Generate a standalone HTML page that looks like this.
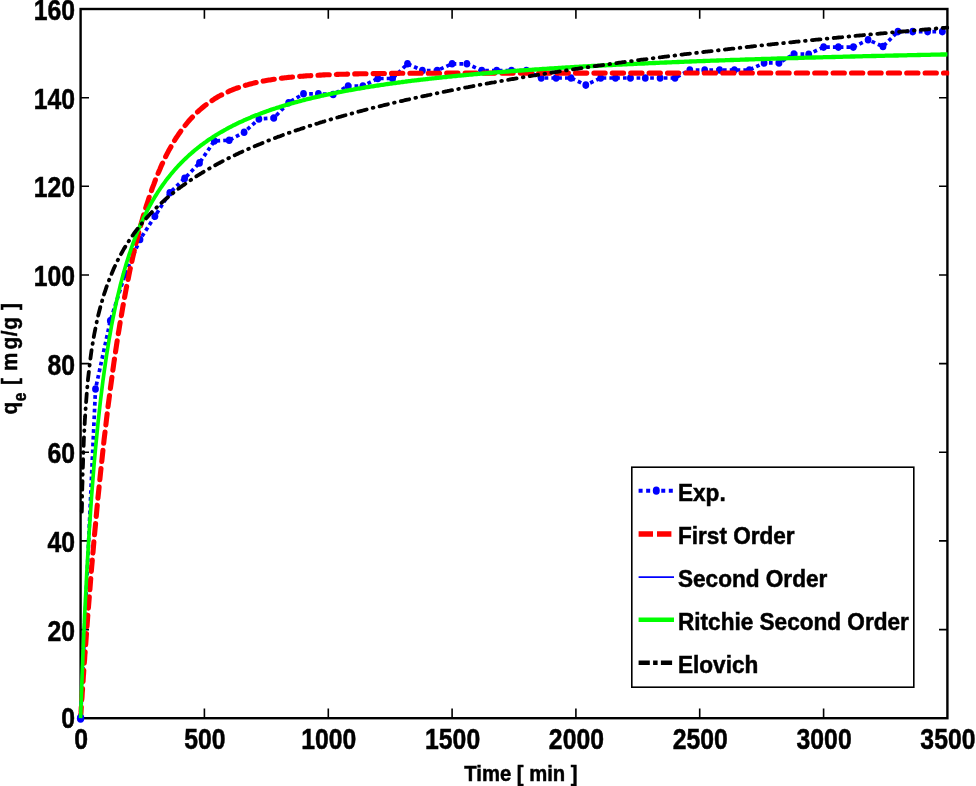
<!DOCTYPE html>
<html><head><meta charset="utf-8"><title>Adsorption kinetics</title>
<style>html,body{margin:0;padding:0;background:#fff}svg{display:block}text{font-family:"Liberation Sans",sans-serif;font-weight:bold;fill:#000;stroke:#000;stroke-width:0.5px}</style></head><body>
<svg width="976" height="786" viewBox="0 0 976 786">
<rect width="976" height="786" fill="#fff"/>
<g stroke="#000" stroke-width="2.4" fill="none">
<rect x="80.6" y="9.0" width="866.8" height="709.2"/>
<path stroke-width="1.6" d="M204.4 718.2 v-9.8 M204.4 9.0 v9.8 M328.3 718.2 v-9.8 M328.3 9.0 v9.8 M452.1 718.2 v-9.8 M452.1 9.0 v9.8 M575.9 718.2 v-9.8 M575.9 9.0 v9.8 M699.7 718.2 v-9.8 M699.7 9.0 v9.8 M823.6 718.2 v-9.8 M823.6 9.0 v9.8 M80.6 629.6 h8.4 M947.4 629.6 h-8.4 M80.6 540.9 h8.4 M947.4 540.9 h-8.4 M80.6 452.3 h8.4 M947.4 452.3 h-8.4 M80.6 363.6 h8.4 M947.4 363.6 h-8.4 M80.6 275.0 h8.4 M947.4 275.0 h-8.4 M80.6 186.3 h8.4 M947.4 186.3 h-8.4 M80.6 97.7 h8.4 M947.4 97.7 h-8.4"/>
</g>
<clipPath id="cp"><rect x="60" y="0" width="889.2" height="740"/></clipPath>
<g fill="none" stroke-linejoin="round" clip-path="url(#cp)">
<path d="M80.6 718.1 L95.5 389.0 L110.3 320.8 L125.2 274.0 L140.0 239.5 L154.9 216.3 L169.8 192.8 L184.6 178.4 L199.5 162.9 L214.3 141.0 L229.2 140.2 L244.1 132.3 L258.9 119.0 L273.8 118.0 L288.6 102.7 L303.5 93.8 L318.4 93.8 L333.2 94.5 L348.1 86.0 L362.9 86.0 L377.8 78.5 L392.6 78.5 L407.5 63.8 L422.4 70.5 L437.2 70.5 L452.1 63.8 L466.9 63.8 L481.8 70.5 L496.7 70.5 L511.5 70.5 L526.4 70.5 L541.2 78.0 L556.1 78.0 L571.0 78.0 L585.8 85.1 L600.7 78.0 L615.5 78.0 L630.4 78.0 L645.3 78.0 L660.1 78.0 L675.0 78.0 L689.8 70.0 L704.7 70.0 L719.6 70.0 L734.4 70.0 L749.3 70.0 L764.1 62.9 L779.0 62.9 L793.9 54.1 L808.7 54.2 L823.6 47.1 L838.4 47.1 L853.3 47.1 L868.1 39.8 L883.0 46.5 L897.9 31.6 L912.7 31.6 L927.6 31.6 L942.4 31.6" stroke="#00f" stroke-width="3.7" stroke-dasharray="3.7 3.1"/>
<g fill="#00f" stroke="none"><ellipse cx="80.6" cy="718.1" rx="3.4" ry="3.8"/><ellipse cx="95.5" cy="389.0" rx="3.4" ry="3.8"/><ellipse cx="110.3" cy="320.8" rx="3.4" ry="3.8"/><ellipse cx="125.2" cy="274.0" rx="3.4" ry="3.8"/><ellipse cx="140.0" cy="239.5" rx="3.4" ry="3.8"/><ellipse cx="154.9" cy="216.3" rx="3.4" ry="3.8"/><ellipse cx="169.8" cy="192.8" rx="3.4" ry="3.8"/><ellipse cx="184.6" cy="178.4" rx="3.4" ry="3.8"/><ellipse cx="199.5" cy="162.9" rx="3.4" ry="3.8"/><ellipse cx="214.3" cy="141.0" rx="3.4" ry="3.8"/><ellipse cx="229.2" cy="140.2" rx="3.4" ry="3.8"/><ellipse cx="244.1" cy="132.3" rx="3.4" ry="3.8"/><ellipse cx="258.9" cy="119.0" rx="3.4" ry="3.8"/><ellipse cx="273.8" cy="118.0" rx="3.4" ry="3.8"/><ellipse cx="288.6" cy="102.7" rx="3.4" ry="3.8"/><ellipse cx="303.5" cy="93.8" rx="3.4" ry="3.8"/><ellipse cx="318.4" cy="93.8" rx="3.4" ry="3.8"/><ellipse cx="333.2" cy="94.5" rx="3.4" ry="3.8"/><ellipse cx="348.1" cy="86.0" rx="3.4" ry="3.8"/><ellipse cx="362.9" cy="86.0" rx="3.4" ry="3.8"/><ellipse cx="377.8" cy="78.5" rx="3.4" ry="3.8"/><ellipse cx="392.6" cy="78.5" rx="3.4" ry="3.8"/><ellipse cx="407.5" cy="63.8" rx="3.4" ry="3.8"/><ellipse cx="422.4" cy="70.5" rx="3.4" ry="3.8"/><ellipse cx="437.2" cy="70.5" rx="3.4" ry="3.8"/><ellipse cx="452.1" cy="63.8" rx="3.4" ry="3.8"/><ellipse cx="466.9" cy="63.8" rx="3.4" ry="3.8"/><ellipse cx="481.8" cy="70.5" rx="3.4" ry="3.8"/><ellipse cx="496.7" cy="70.5" rx="3.4" ry="3.8"/><ellipse cx="511.5" cy="70.5" rx="3.4" ry="3.8"/><ellipse cx="526.4" cy="70.5" rx="3.4" ry="3.8"/><ellipse cx="541.2" cy="78.0" rx="3.4" ry="3.8"/><ellipse cx="556.1" cy="78.0" rx="3.4" ry="3.8"/><ellipse cx="571.0" cy="78.0" rx="3.4" ry="3.8"/><ellipse cx="585.8" cy="85.1" rx="3.4" ry="3.8"/><ellipse cx="600.7" cy="78.0" rx="3.4" ry="3.8"/><ellipse cx="615.5" cy="78.0" rx="3.4" ry="3.8"/><ellipse cx="630.4" cy="78.0" rx="3.4" ry="3.8"/><ellipse cx="645.3" cy="78.0" rx="3.4" ry="3.8"/><ellipse cx="660.1" cy="78.0" rx="3.4" ry="3.8"/><ellipse cx="675.0" cy="78.0" rx="3.4" ry="3.8"/><ellipse cx="689.8" cy="70.0" rx="3.4" ry="3.8"/><ellipse cx="704.7" cy="70.0" rx="3.4" ry="3.8"/><ellipse cx="719.6" cy="70.0" rx="3.4" ry="3.8"/><ellipse cx="734.4" cy="70.0" rx="3.4" ry="3.8"/><ellipse cx="749.3" cy="70.0" rx="3.4" ry="3.8"/><ellipse cx="764.1" cy="62.9" rx="3.4" ry="3.8"/><ellipse cx="779.0" cy="62.9" rx="3.4" ry="3.8"/><ellipse cx="793.9" cy="54.1" rx="3.4" ry="3.8"/><ellipse cx="808.7" cy="54.2" rx="3.4" ry="3.8"/><ellipse cx="823.6" cy="47.1" rx="3.4" ry="3.8"/><ellipse cx="838.4" cy="47.1" rx="3.4" ry="3.8"/><ellipse cx="853.3" cy="47.1" rx="3.4" ry="3.8"/><ellipse cx="868.1" cy="39.8" rx="3.4" ry="3.8"/><ellipse cx="883.0" cy="46.5" rx="3.4" ry="3.8"/><ellipse cx="897.9" cy="31.6" rx="3.4" ry="3.8"/><ellipse cx="912.7" cy="31.6" rx="3.4" ry="3.8"/><ellipse cx="927.6" cy="31.6" rx="3.4" ry="3.8"/><ellipse cx="942.4" cy="31.6" rx="3.4" ry="3.8"/></g>
<path d="M80.6 718.2 L80.7 716.3 L80.8 714.4 L81.0 712.5 L81.1 710.6 L81.2 708.7 L81.3 706.8 L81.5 704.9 L81.6 703.0 L81.7 701.2 L81.8 699.3 L82.0 697.4 L82.1 695.6 L82.2 693.7 L82.3 691.9 L82.5 690.0 L82.6 688.2 L82.7 686.4 L82.8 684.6 L83.0 682.7 L83.1 680.9 L83.2 679.1 L83.3 677.3 L83.4 675.5 L83.6 673.7 L83.7 672.0 L83.8 670.2 L83.9 668.4 L84.1 666.6 L84.2 664.9 L84.3 663.1 L84.4 661.4 L84.6 659.6 L84.7 657.9 L84.8 656.1 L84.9 654.4 L85.1 652.7 L85.2 651.0 L85.3 649.2 L85.4 647.5 L85.6 645.8 L86.8 629.0 L88.0 612.7 L89.3 596.9 L90.5 581.6 L91.7 566.7 L93.0 552.2 L94.2 538.1 L95.5 524.5 L96.7 511.3 L97.9 498.4 L99.2 486.0 L100.4 473.9 L101.7 462.1 L102.9 450.7 L104.1 439.6 L105.4 428.9 L106.6 418.5 L107.8 408.3 L109.1 398.5 L110.3 389.0 L111.6 379.7 L112.8 370.7 L114.0 362.0 L115.3 353.5 L116.5 345.3 L117.7 337.3 L119.0 329.6 L120.2 322.1 L121.5 314.8 L122.7 307.7 L123.9 300.8 L125.2 294.1 L126.4 287.6 L127.7 281.4 L128.9 275.2 L130.1 269.3 L131.4 263.6 L132.6 258.0 L133.8 252.6 L135.1 247.3 L136.3 242.2 L137.6 237.2 L138.8 232.4 L140.0 227.7 L141.3 223.2 L142.5 218.8 L143.8 214.5 L145.0 210.4 L146.2 206.4 L147.5 202.5 L148.7 198.7 L149.9 195.0 L151.2 191.4 L152.4 187.9 L153.7 184.6 L154.9 181.3 L156.1 178.1 L157.4 175.1 L158.6 172.1 L159.9 169.2 L161.1 166.3 L162.3 163.6 L163.6 161.0 L164.8 158.4 L166.0 155.9 L167.3 153.4 L168.5 151.1 L169.8 148.8 L171.0 146.6 L172.2 144.4 L173.5 142.3 L174.7 140.3 L175.9 138.3 L177.2 136.4 L178.4 134.6 L179.7 132.8 L180.9 131.0 L182.1 129.3 L183.4 127.7 L184.6 126.1 L185.9 124.5 L187.1 123.0 L188.3 121.5 L189.6 120.1 L190.8 118.7 L192.0 117.4 L193.3 116.1 L194.5 114.8 L195.8 113.6 L197.0 112.4 L198.2 111.3 L199.5 110.1 L200.7 109.1 L202.0 108.0 L203.2 107.0 L204.4 106.0 L205.7 105.0 L206.9 104.1 L208.1 103.2 L209.4 102.3 L210.6 101.4 L211.9 100.6 L213.1 99.8 L214.3 99.0 L215.6 98.2 L216.8 97.5 L218.0 96.8 L219.3 96.1 L220.5 95.4 L221.8 94.8 L223.0 94.1 L224.2 93.5 L225.5 92.9 L226.7 92.3 L228.0 91.8 L229.2 91.2 L230.4 90.7 L231.7 90.2 L232.9 89.7 L234.1 89.2 L235.4 88.7 L236.6 88.2 L237.9 87.8 L239.1 87.4 L240.3 86.9 L241.6 86.5 L242.8 86.1 L244.1 85.8 L245.3 85.4 L246.5 85.0 L247.8 84.7 L249.0 84.3 L250.2 84.0 L251.5 83.7 L252.7 83.4 L254.0 83.1 L255.2 82.8 L256.4 82.5 L257.7 82.2 L258.9 81.9 L260.2 81.7 L261.4 81.4 L262.6 81.2 L263.9 80.9 L265.1 80.7 L266.3 80.5 L267.6 80.3 L268.8 80.1 L270.1 79.9 L271.3 79.7 L272.5 79.5 L273.8 79.3 L275.0 79.1 L276.2 78.9 L277.5 78.7 L278.7 78.6 L280.0 78.4 L281.2 78.3 L282.4 78.1 L283.7 78.0 L284.9 77.8 L286.2 77.7 L287.4 77.5 L288.6 77.4 L289.9 77.3 L291.1 77.2 L292.3 77.0 L293.6 76.9 L294.8 76.8 L296.1 76.7 L297.3 76.6 L298.5 76.5 L299.8 76.4 L301.0 76.3 L302.3 76.2 L303.5 76.1 L304.7 76.0 L306.0 75.9 L307.2 75.8 L308.4 75.8 L309.7 75.7 L310.9 75.6 L312.2 75.5 L313.4 75.5 L314.6 75.4 L315.9 75.3 L317.1 75.2 L318.4 75.2 L319.6 75.1 L320.8 75.1 L322.1 75.0 L323.3 74.9 L324.5 74.9 L325.8 74.8 L327.0 74.8 L328.3 74.7 L329.5 74.7 L330.7 74.6 L332.0 74.6 L333.2 74.5 L334.4 74.5 L335.7 74.5 L336.9 74.4 L338.2 74.4 L339.4 74.3 L340.6 74.3 L341.9 74.3 L343.1 74.2 L344.4 74.2 L345.6 74.2 L346.8 74.1 L348.1 74.1 L349.3 74.1 L350.5 74.0 L351.8 74.0 L353.0 74.0 L354.3 73.9 L355.5 73.9 L356.7 73.9 L358.0 73.9 L359.2 73.8 L360.5 73.8 L361.7 73.8 L362.9 73.8 L364.2 73.8 L365.4 73.7 L366.6 73.7 L367.9 73.7 L369.1 73.7 L370.4 73.7 L371.6 73.6 L372.8 73.6 L374.1 73.6 L375.3 73.6 L376.6 73.6 L377.8 73.6 L379.0 73.5 L380.3 73.5 L381.5 73.5 L382.7 73.5 L384.0 73.5 L385.2 73.5 L386.5 73.5 L387.7 73.5 L388.9 73.4 L390.2 73.4 L391.4 73.4 L392.6 73.4 L393.9 73.4 L395.1 73.4 L396.4 73.4 L397.6 73.4 L398.8 73.4 L400.1 73.3 L401.3 73.3 L402.6 73.3 L403.8 73.3 L405.0 73.3 L406.3 73.3 L407.5 73.3 L408.7 73.3 L410.0 73.3 L411.2 73.3 L412.5 73.3 L413.7 73.3 L414.9 73.3 L416.2 73.3 L417.4 73.2 L418.7 73.2 L419.9 73.2 L421.1 73.2 L422.4 73.2 L423.6 73.2 L424.8 73.2 L426.1 73.2 L427.3 73.2 L428.6 73.2 L429.8 73.2 L431.0 73.2 L432.3 73.2 L433.5 73.2 L434.7 73.2 L436.0 73.2 L437.2 73.2 L438.5 73.2 L439.7 73.2 L440.9 73.2 L442.2 73.2 L443.4 73.2 L444.7 73.2 L445.9 73.1 L447.1 73.1 L448.4 73.1 L449.6 73.1 L450.8 73.1 L452.1 73.1 L453.3 73.1 L454.6 73.1 L455.8 73.1 L457.0 73.1 L458.3 73.1 L459.5 73.1 L460.8 73.1 L462.0 73.1 L463.2 73.1 L464.5 73.1 L465.7 73.1 L466.9 73.1 L468.2 73.1 L469.4 73.1 L470.7 73.1 L471.9 73.1 L473.1 73.1 L474.4 73.1 L475.6 73.1 L476.9 73.1 L478.1 73.1 L479.3 73.1 L480.6 73.1 L481.8 73.1 L483.0 73.1 L484.3 73.1 L485.5 73.1 L486.8 73.1 L488.0 73.1 L489.2 73.1 L490.5 73.1 L491.7 73.1 L492.9 73.1 L494.2 73.1 L495.4 73.1 L496.7 73.1 L497.9 73.1 L499.1 73.1 L500.4 73.1 L501.6 73.1 L502.9 73.1 L504.1 73.1 L505.3 73.1 L506.6 73.1 L507.8 73.1 L509.0 73.1 L510.3 73.1 L511.5 73.1 L512.8 73.1 L514.0 73.1 L515.2 73.1 L516.5 73.1 L517.7 73.1 L519.0 73.1 L520.2 73.1 L521.4 73.1 L522.7 73.1 L523.9 73.1 L525.1 73.1 L526.4 73.1 L527.6 73.1 L528.9 73.1 L530.1 73.1 L531.3 73.1 L532.6 73.1 L533.8 73.1 L535.1 73.1 L536.3 73.1 L537.5 73.1 L538.8 73.1 L540.0 73.1 L541.2 73.1 L542.5 73.1 L543.7 73.1 L545.0 73.1 L546.2 73.1 L547.4 73.1 L548.7 73.1 L549.9 73.1 L551.1 73.1 L552.4 73.1 L553.6 73.1 L554.9 73.1 L556.1 73.1 L557.3 73.1 L558.6 73.1 L559.8 73.1 L561.1 73.1 L562.3 73.1 L563.5 73.1 L564.8 73.1 L566.0 73.1 L567.2 73.1 L568.5 73.1 L569.7 73.1 L571.0 73.1 L572.2 73.1 L573.4 73.1 L574.7 73.1 L575.9 73.1 L577.2 73.1 L578.4 73.1 L579.6 73.1 L580.9 73.1 L582.1 73.1 L583.3 73.1 L584.6 73.1 L585.8 73.1 L587.1 73.1 L588.3 73.1 L589.5 73.1 L590.8 73.1 L592.0 73.1 L593.3 73.1 L594.5 73.1 L595.7 73.1 L597.0 73.1 L598.2 73.1 L599.4 73.1 L600.7 73.1 L601.9 73.1 L603.2 73.1 L604.4 73.1 L605.6 73.1 L606.9 73.1 L608.1 73.1 L609.3 73.1 L610.6 73.1 L611.8 73.1 L613.1 73.1 L614.3 73.1 L615.5 73.1 L616.8 73.1 L618.0 73.1 L619.3 73.1 L620.5 73.1 L621.7 73.1 L623.0 73.1 L624.2 73.1 L625.4 73.1 L626.7 73.1 L627.9 73.1 L629.2 73.1 L630.4 73.1 L631.6 73.1 L632.9 73.1 L634.1 73.1 L635.4 73.1 L636.6 73.1 L637.8 73.1 L639.1 73.1 L640.3 73.1 L641.5 73.1 L642.8 73.1 L644.0 73.1 L645.3 73.1 L646.5 73.1 L647.7 73.1 L649.0 73.1 L650.2 73.1 L651.4 73.1 L652.7 73.1 L653.9 73.1 L655.2 73.1 L656.4 73.1 L657.6 73.1 L658.9 73.1 L660.1 73.1 L661.4 73.1 L662.6 73.1 L663.8 73.1 L665.1 73.1 L666.3 73.1 L667.5 73.1 L668.8 73.1 L670.0 73.1 L671.3 73.1 L672.5 73.1 L673.7 73.1 L675.0 73.1 L676.2 73.1 L677.5 73.1 L678.7 73.0 L679.9 73.0 L681.2 73.0 L682.4 73.0 L683.6 73.0 L684.9 73.0 L686.1 73.0 L687.4 73.0 L688.6 73.0 L689.8 73.0 L691.1 73.0 L692.3 73.0 L693.6 73.0 L694.8 73.0 L696.0 73.0 L697.3 73.0 L698.5 73.0 L699.7 73.0 L701.0 73.0 L702.2 73.0 L703.5 73.0 L704.7 73.0 L705.9 73.0 L707.2 73.0 L708.4 73.0 L709.6 73.0 L710.9 73.0 L712.1 73.0 L713.4 73.0 L714.6 73.0 L715.8 73.0 L717.1 73.0 L718.3 73.0 L719.6 73.0 L720.8 73.0 L722.0 73.0 L723.3 73.0 L724.5 73.0 L725.7 73.0 L727.0 73.0 L728.2 73.0 L729.5 73.0 L730.7 73.0 L731.9 73.0 L733.2 73.0 L734.4 73.0 L735.7 73.0 L736.9 73.0 L738.1 73.0 L739.4 73.0 L740.6 73.0 L741.8 73.0 L743.1 73.0 L744.3 73.0 L745.6 73.0 L746.8 73.0 L748.0 73.0 L749.3 73.0 L750.5 73.0 L751.8 73.0 L753.0 73.0 L754.2 73.0 L755.5 73.0 L756.7 73.0 L757.9 73.0 L759.2 73.0 L760.4 73.0 L761.7 73.0 L762.9 73.0 L764.1 73.0 L765.4 73.0 L766.6 73.0 L767.8 73.0 L769.1 73.0 L770.3 73.0 L771.6 73.0 L772.8 73.0 L774.0 73.0 L775.3 73.0 L776.5 73.0 L777.8 73.0 L779.0 73.0 L780.2 73.0 L781.5 73.0 L782.7 73.0 L783.9 73.0 L785.2 73.0 L786.4 73.0 L787.7 73.0 L788.9 73.0 L790.1 73.0 L791.4 73.0 L792.6 73.0 L793.9 73.0 L795.1 73.0 L796.3 73.0 L797.6 73.0 L798.8 73.0 L800.0 73.0 L801.3 73.0 L802.5 73.0 L803.8 73.0 L805.0 73.0 L806.2 73.0 L807.5 73.0 L808.7 73.0 L810.0 73.0 L811.2 73.0 L812.4 73.0 L813.7 73.0 L814.9 73.0 L816.1 73.0 L817.4 73.0 L818.6 73.0 L819.9 73.0 L821.1 73.0 L822.3 73.0 L823.6 73.0 L824.8 73.0 L826.0 73.0 L827.3 73.0 L828.5 73.0 L829.8 73.0 L831.0 73.0 L832.2 73.0 L833.5 73.0 L834.7 73.0 L836.0 73.0 L837.2 73.0 L838.4 73.0 L839.7 73.0 L840.9 73.0 L842.1 73.0 L843.4 73.0 L844.6 73.0 L845.9 73.0 L847.1 73.0 L848.3 73.0 L849.6 73.0 L850.8 73.0 L852.1 73.0 L853.3 73.0 L854.5 73.0 L855.8 73.0 L857.0 73.0 L858.2 73.0 L859.5 73.0 L860.7 73.0 L862.0 73.0 L863.2 73.0 L864.4 73.0 L865.7 73.0 L866.9 73.0 L868.1 73.0 L869.4 73.0 L870.6 73.0 L871.9 73.0 L873.1 73.0 L874.3 73.0 L875.6 73.0 L876.8 73.0 L878.1 73.0 L879.3 73.0 L880.5 73.0 L881.8 73.0 L883.0 73.0 L884.2 73.0 L885.5 73.0 L886.7 73.0 L888.0 73.0 L889.2 73.0 L890.4 73.0 L891.7 73.0 L892.9 73.0 L894.2 73.0 L895.4 73.0 L896.6 73.0 L897.9 73.0 L899.1 73.0 L900.3 73.0 L901.6 73.0 L902.8 73.0 L904.1 73.0 L905.3 73.0 L906.5 73.0 L907.8 73.0 L909.0 73.0 L910.3 73.0 L911.5 73.0 L912.7 73.0 L914.0 73.0 L915.2 73.0 L916.4 73.0 L917.7 73.0 L918.9 73.0 L920.2 73.0 L921.4 73.0 L922.6 73.0 L923.9 73.0 L925.1 73.0 L926.3 73.0 L927.6 73.0 L928.8 73.0 L930.1 73.0 L931.3 73.0 L932.5 73.0 L933.8 73.0 L935.0 73.0 L936.3 73.0 L937.5 73.0 L938.7 73.0 L940.0 73.0 L941.2 73.0 L942.4 73.0 L943.7 73.0 L944.9 73.0 L946.2 73.0 L947.4 73.0" stroke="#f00" stroke-width="5.1" stroke-linecap="round" stroke-dasharray="11.3 7.1"/>
<ellipse cx="80.6" cy="718.3" rx="3.7" ry="4.4" fill="#00f"/>
<g transform="scale(0.85,1)">
<path d="M94.8 718.2 L95.0 714.5 L95.1 710.9 L95.3 707.3 L95.4 703.7 L95.6 700.2 L95.7 696.7 L95.8 693.2 L96.0 689.8 L96.1 686.4 L96.3 683.1 L96.4 679.8 L96.6 676.5 L96.7 673.3 L96.9 670.0 L97.0 666.9 L97.2 663.7 L97.3 660.6 L97.4 657.5 L97.6 654.5 L97.7 651.4 L97.9 648.4 L98.0 645.5 L98.2 642.5 L98.3 639.6 L98.5 636.7 L98.6 633.9 L98.8 631.1 L98.9 628.3 L99.0 625.5 L99.2 622.7 L99.3 620.0 L99.5 617.3 L99.6 614.6 L99.8 612.0 L99.9 609.4 L100.1 606.8 L100.2 604.2 L100.4 601.6 L100.5 599.1 L100.7 596.6 L102.1 572.7 L103.6 550.7 L105.0 530.5 L106.5 511.8 L107.9 494.5 L109.4 478.4 L110.8 463.4 L112.3 449.3 L113.8 436.2 L115.2 423.9 L116.7 412.3 L118.1 401.4 L119.6 391.1 L121.0 381.4 L122.5 372.2 L124.0 363.4 L125.4 355.2 L126.9 347.3 L128.3 339.8 L129.8 332.7 L131.2 325.8 L132.7 319.3 L134.2 313.1 L135.6 307.2 L137.1 301.5 L138.5 296.0 L140.0 290.8 L141.4 285.7 L142.9 280.9 L144.4 276.2 L145.8 271.8 L147.3 267.4 L148.7 263.3 L150.2 259.3 L151.6 255.4 L153.1 251.7 L154.6 248.0 L156.0 244.5 L157.5 241.2 L158.9 237.9 L160.4 234.7 L161.8 231.7 L163.3 228.7 L164.8 225.8 L166.2 223.0 L167.7 220.3 L169.1 217.6 L170.6 215.1 L172.0 212.6 L173.5 210.1 L174.9 207.8 L176.4 205.5 L177.9 203.3 L179.3 201.1 L180.8 199.0 L182.2 196.9 L183.7 194.9 L185.1 192.9 L186.6 191.0 L188.1 189.1 L189.5 187.3 L191.0 185.5 L192.4 183.8 L193.9 182.1 L195.3 180.4 L196.8 178.8 L198.3 177.2 L199.7 175.7 L201.2 174.1 L202.6 172.7 L204.1 171.2 L205.5 169.8 L207.0 168.4 L208.5 167.0 L209.9 165.7 L211.4 164.4 L212.8 163.1 L214.3 161.8 L215.7 160.6 L217.2 159.4 L218.7 158.2 L220.1 157.1 L221.6 155.9 L223.0 154.8 L224.5 153.7 L225.9 152.6 L227.4 151.6 L228.8 150.5 L230.3 149.5 L231.8 148.5 L233.2 147.5 L234.7 146.6 L236.1 145.6 L237.6 144.7 L239.0 143.8 L240.5 142.9 L242.0 142.0 L243.4 141.1 L244.9 140.2 L246.3 139.4 L247.8 138.6 L249.2 137.8 L250.7 137.0 L252.2 136.2 L253.6 135.4 L255.1 134.6 L256.5 133.9 L258.0 133.1 L259.4 132.4 L260.9 131.7 L262.4 131.0 L263.8 130.3 L265.3 129.6 L266.7 128.9 L268.2 128.2 L269.6 127.6 L271.1 126.9 L272.6 126.3 L274.0 125.6 L275.5 125.0 L276.9 124.4 L278.4 123.8 L279.8 123.2 L281.3 122.6 L282.8 122.0 L284.2 121.5 L285.7 120.9 L287.1 120.3 L288.6 119.8 L290.0 119.2 L291.5 118.7 L292.9 118.2 L294.4 117.7 L295.9 117.1 L297.3 116.6 L298.8 116.1 L300.2 115.6 L301.7 115.1 L303.1 114.7 L304.6 114.2 L306.1 113.7 L307.5 113.2 L309.0 112.8 L310.4 112.3 L311.9 111.9 L313.3 111.4 L314.8 111.0 L316.3 110.6 L317.7 110.1 L319.2 109.7 L320.6 109.3 L322.1 108.9 L323.5 108.5 L325.0 108.0 L326.5 107.6 L327.9 107.3 L329.4 106.9 L330.8 106.5 L332.3 106.1 L333.7 105.7 L335.2 105.3 L336.7 105.0 L338.1 104.6 L339.6 104.2 L341.0 103.9 L342.5 103.5 L343.9 103.2 L345.4 102.8 L346.9 102.5 L348.3 102.1 L349.8 101.8 L351.2 101.5 L352.7 101.1 L354.1 100.8 L355.6 100.5 L357.0 100.2 L358.5 99.8 L360.0 99.5 L361.4 99.2 L362.9 98.9 L364.3 98.6 L365.8 98.3 L367.2 98.0 L368.7 97.7 L370.2 97.4 L371.6 97.1 L373.1 96.8 L374.5 96.6 L376.0 96.3 L377.4 96.0 L378.9 95.7 L380.4 95.5 L381.8 95.2 L383.3 94.9 L384.7 94.6 L386.2 94.4 L387.6 94.1 L389.1 93.9 L390.6 93.6 L392.0 93.3 L393.5 93.1 L394.9 92.8 L396.4 92.6 L397.8 92.4 L399.3 92.1 L400.8 91.9 L402.2 91.6 L403.7 91.4 L405.1 91.2 L406.6 90.9 L408.0 90.7 L409.5 90.5 L411.0 90.2 L412.4 90.0 L413.9 89.8 L415.3 89.6 L416.8 89.3 L418.2 89.1 L419.7 88.9 L421.1 88.7 L422.6 88.5 L424.1 88.3 L425.5 88.1 L427.0 87.9 L428.4 87.6 L429.9 87.4 L431.3 87.2 L432.8 87.0 L434.3 86.8 L435.7 86.6 L437.2 86.4 L438.6 86.3 L440.1 86.1 L441.5 85.9 L443.0 85.7 L444.5 85.5 L445.9 85.3 L447.4 85.1 L448.8 84.9 L450.3 84.8 L451.7 84.6 L453.2 84.4 L454.7 84.2 L456.1 84.0 L457.6 83.9 L459.0 83.7 L460.5 83.5 L461.9 83.3 L463.4 83.2 L464.9 83.0 L466.3 82.8 L467.8 82.7 L469.2 82.5 L470.7 82.3 L472.1 82.2 L473.6 82.0 L475.1 81.8 L476.5 81.7 L478.0 81.5 L479.4 81.4 L480.9 81.2 L482.3 81.1 L483.8 80.9 L485.2 80.7 L486.7 80.6 L488.2 80.4 L489.6 80.3 L491.1 80.1 L492.5 80.0 L494.0 79.9 L495.4 79.7 L496.9 79.6 L498.4 79.4 L499.8 79.3 L501.3 79.1 L502.7 79.0 L504.2 78.8 L505.6 78.7 L507.1 78.6 L508.6 78.4 L510.0 78.3 L511.5 78.2 L512.9 78.0 L514.4 77.9 L515.8 77.8 L517.3 77.6 L518.8 77.5 L520.2 77.4 L521.7 77.2 L523.1 77.1 L524.6 77.0 L526.0 76.8 L527.5 76.7 L529.0 76.6 L530.4 76.5 L531.9 76.3 L533.3 76.2 L534.8 76.1 L536.2 76.0 L537.7 75.9 L539.1 75.7 L540.6 75.6 L542.1 75.5 L543.5 75.4 L545.0 75.3 L546.4 75.1 L547.9 75.0 L549.3 74.9 L550.8 74.8 L552.3 74.7 L553.7 74.6 L555.2 74.5 L556.6 74.4 L558.1 74.2 L559.5 74.1 L561.0 74.0 L562.5 73.9 L563.9 73.8 L565.4 73.7 L566.8 73.6 L568.3 73.5 L569.7 73.4 L571.2 73.3 L572.7 73.2 L574.1 73.1 L575.6 73.0 L577.0 72.9 L578.5 72.8 L579.9 72.7 L581.4 72.5 L582.9 72.4 L584.3 72.3 L585.8 72.2 L587.2 72.2 L588.7 72.1 L590.1 72.0 L591.6 71.9 L593.1 71.8 L594.5 71.7 L596.0 71.6 L597.4 71.5 L598.9 71.4 L600.3 71.3 L601.8 71.2 L603.2 71.1 L604.7 71.0 L606.2 70.9 L607.6 70.8 L609.1 70.7 L610.5 70.6 L612.0 70.5 L613.4 70.5 L614.9 70.4 L616.4 70.3 L617.8 70.2 L619.3 70.1 L620.7 70.0 L622.2 69.9 L623.6 69.8 L625.1 69.8 L626.6 69.7 L628.0 69.6 L629.5 69.5 L630.9 69.4 L632.4 69.3 L633.8 69.3 L635.3 69.2 L636.8 69.1 L638.2 69.0 L639.7 68.9 L641.1 68.8 L642.6 68.8 L644.0 68.7 L645.5 68.6 L647.0 68.5 L648.4 68.4 L649.9 68.4 L651.3 68.3 L652.8 68.2 L654.2 68.1 L655.7 68.1 L657.2 68.0 L658.6 67.9 L660.1 67.8 L661.5 67.7 L663.0 67.7 L664.4 67.6 L665.9 67.5 L667.3 67.4 L668.8 67.4 L670.3 67.3 L671.7 67.2 L673.2 67.2 L674.6 67.1 L676.1 67.0 L677.5 66.9 L679.0 66.9 L680.5 66.8 L681.9 66.7 L683.4 66.7 L684.8 66.6 L686.3 66.5 L687.7 66.4 L689.2 66.4 L690.7 66.3 L692.1 66.2 L693.6 66.2 L695.0 66.1 L696.5 66.0 L697.9 66.0 L699.4 65.9 L700.9 65.8 L702.3 65.8 L703.8 65.7 L705.2 65.6 L706.7 65.6 L708.1 65.5 L709.6 65.4 L711.1 65.4 L712.5 65.3 L714.0 65.2 L715.4 65.2 L716.9 65.1 L718.3 65.1 L719.8 65.0 L721.3 64.9 L722.7 64.9 L724.2 64.8 L725.6 64.7 L727.1 64.7 L728.5 64.6 L730.0 64.6 L731.4 64.5 L732.9 64.4 L734.4 64.4 L735.8 64.3 L737.3 64.3 L738.7 64.2 L740.2 64.1 L741.6 64.1 L743.1 64.0 L744.6 64.0 L746.0 63.9 L747.5 63.9 L748.9 63.8 L750.4 63.7 L751.8 63.7 L753.3 63.6 L754.8 63.6 L756.2 63.5 L757.7 63.5 L759.1 63.4 L760.6 63.3 L762.0 63.3 L763.5 63.2 L765.0 63.2 L766.4 63.1 L767.9 63.1 L769.3 63.0 L770.8 63.0 L772.2 62.9 L773.7 62.9 L775.2 62.8 L776.6 62.7 L778.1 62.7 L779.5 62.6 L781.0 62.6 L782.4 62.5 L783.9 62.5 L785.3 62.4 L786.8 62.4 L788.3 62.3 L789.7 62.3 L791.2 62.2 L792.6 62.2 L794.1 62.1 L795.5 62.1 L797.0 62.0 L798.5 62.0 L799.9 61.9 L801.4 61.9 L802.8 61.8 L804.3 61.8 L805.7 61.7 L807.2 61.7 L808.7 61.6 L810.1 61.6 L811.6 61.5 L813.0 61.5 L814.5 61.4 L815.9 61.4 L817.4 61.3 L818.9 61.3 L820.3 61.2 L821.8 61.2 L823.2 61.2 L824.7 61.1 L826.1 61.1 L827.6 61.0 L829.1 61.0 L830.5 60.9 L832.0 60.9 L833.4 60.8 L834.9 60.8 L836.3 60.7 L837.8 60.7 L839.3 60.7 L840.7 60.6 L842.2 60.6 L843.6 60.5 L845.1 60.5 L846.5 60.4 L848.0 60.4 L849.4 60.3 L850.9 60.3 L852.4 60.3 L853.8 60.2 L855.3 60.2 L856.7 60.1 L858.2 60.1 L859.6 60.0 L861.1 60.0 L862.6 60.0 L864.0 59.9 L865.5 59.9 L866.9 59.8 L868.4 59.8 L869.8 59.8 L871.3 59.7 L872.8 59.7 L874.2 59.6 L875.7 59.6 L877.1 59.5 L878.6 59.5 L880.0 59.5 L881.5 59.4 L883.0 59.4 L884.4 59.3 L885.9 59.3 L887.3 59.3 L888.8 59.2 L890.2 59.2 L891.7 59.1 L893.2 59.1 L894.6 59.1 L896.1 59.0 L897.5 59.0 L899.0 59.0 L900.4 58.9 L901.9 58.9 L903.4 58.8 L904.8 58.8 L906.3 58.8 L907.7 58.7 L909.2 58.7 L910.6 58.6 L912.1 58.6 L913.5 58.6 L915.0 58.5 L916.5 58.5 L917.9 58.5 L919.4 58.4 L920.8 58.4 L922.3 58.4 L923.7 58.3 L925.2 58.3 L926.7 58.2 L928.1 58.2 L929.6 58.2 L931.0 58.1 L932.5 58.1 L933.9 58.1 L935.4 58.0 L936.9 58.0 L938.3 58.0 L939.8 57.9 L941.2 57.9 L942.7 57.9 L944.1 57.8 L945.6 57.8 L947.1 57.7 L948.5 57.7 L950.0 57.7 L951.4 57.6 L952.9 57.6 L954.3 57.6 L955.8 57.5 L957.3 57.5 L958.7 57.5 L960.2 57.4 L961.6 57.4 L963.1 57.4 L964.5 57.3 L966.0 57.3 L967.5 57.3 L968.9 57.2 L970.4 57.2 L971.8 57.2 L973.3 57.1 L974.7 57.1 L976.2 57.1 L977.6 57.1 L979.1 57.0 L980.6 57.0 L982.0 57.0 L983.5 56.9 L984.9 56.9 L986.4 56.9 L987.8 56.8 L989.3 56.8 L990.8 56.8 L992.2 56.7 L993.7 56.7 L995.1 56.7 L996.6 56.6 L998.0 56.6 L999.5 56.6 L1001.0 56.5 L1002.4 56.5 L1003.9 56.5 L1005.3 56.5 L1006.8 56.4 L1008.2 56.4 L1009.7 56.4 L1011.2 56.3 L1012.6 56.3 L1014.1 56.3 L1015.5 56.2 L1017.0 56.2 L1018.4 56.2 L1019.9 56.2 L1021.4 56.1 L1022.8 56.1 L1024.3 56.1 L1025.7 56.0 L1027.2 56.0 L1028.6 56.0 L1030.1 56.0 L1031.6 55.9 L1033.0 55.9 L1034.5 55.9 L1035.9 55.8 L1037.4 55.8 L1038.8 55.8 L1040.3 55.8 L1041.7 55.7 L1043.2 55.7 L1044.7 55.7 L1046.1 55.6 L1047.6 55.6 L1049.0 55.6 L1050.5 55.6 L1051.9 55.5 L1053.4 55.5 L1054.9 55.5 L1056.3 55.5 L1057.8 55.4 L1059.2 55.4 L1060.7 55.4 L1062.1 55.3 L1063.6 55.3 L1065.1 55.3 L1066.5 55.3 L1068.0 55.2 L1069.4 55.2 L1070.9 55.2 L1072.3 55.2 L1073.8 55.1 L1075.3 55.1 L1076.7 55.1 L1078.2 55.1 L1079.6 55.0 L1081.1 55.0 L1082.5 55.0 L1084.0 54.9 L1085.5 54.9 L1086.9 54.9 L1088.4 54.9 L1089.8 54.8 L1091.3 54.8 L1092.7 54.8 L1094.2 54.8 L1095.6 54.7 L1097.1 54.7 L1098.6 54.7 L1100.0 54.7 L1101.5 54.6 L1102.9 54.6 L1104.4 54.6 L1105.8 54.6 L1107.3 54.5 L1108.8 54.5 L1110.2 54.5 L1111.7 54.5 L1113.1 54.4 L1114.6 54.4" stroke="#00f" stroke-width="1.8"/>
<path d="M94.8 718.2 L95.0 714.5 L95.1 710.9 L95.3 707.3 L95.4 703.7 L95.6 700.2 L95.7 696.7 L95.8 693.2 L96.0 689.8 L96.1 686.4 L96.3 683.1 L96.4 679.8 L96.6 676.5 L96.7 673.3 L96.9 670.0 L97.0 666.9 L97.2 663.7 L97.3 660.6 L97.4 657.5 L97.6 654.5 L97.7 651.4 L97.9 648.4 L98.0 645.5 L98.2 642.5 L98.3 639.6 L98.5 636.7 L98.6 633.9 L98.8 631.1 L98.9 628.3 L99.0 625.5 L99.2 622.7 L99.3 620.0 L99.5 617.3 L99.6 614.6 L99.8 612.0 L99.9 609.4 L100.1 606.8 L100.2 604.2 L100.4 601.6 L100.5 599.1 L100.7 596.6 L102.1 572.7 L103.6 550.7 L105.0 530.5 L106.5 511.8 L107.9 494.5 L109.4 478.4 L110.8 463.4 L112.3 449.3 L113.8 436.2 L115.2 423.9 L116.7 412.3 L118.1 401.4 L119.6 391.1 L121.0 381.4 L122.5 372.2 L124.0 363.4 L125.4 355.2 L126.9 347.3 L128.3 339.8 L129.8 332.7 L131.2 325.8 L132.7 319.3 L134.2 313.1 L135.6 307.2 L137.1 301.5 L138.5 296.0 L140.0 290.8 L141.4 285.7 L142.9 280.9 L144.4 276.2 L145.8 271.8 L147.3 267.4 L148.7 263.3 L150.2 259.3 L151.6 255.4 L153.1 251.7 L154.6 248.0 L156.0 244.5 L157.5 241.2 L158.9 237.9 L160.4 234.7 L161.8 231.7 L163.3 228.7 L164.8 225.8 L166.2 223.0 L167.7 220.3 L169.1 217.6 L170.6 215.1 L172.0 212.6 L173.5 210.1 L174.9 207.8 L176.4 205.5 L177.9 203.3 L179.3 201.1 L180.8 199.0 L182.2 196.9 L183.7 194.9 L185.1 192.9 L186.6 191.0 L188.1 189.1 L189.5 187.3 L191.0 185.5 L192.4 183.8 L193.9 182.1 L195.3 180.4 L196.8 178.8 L198.3 177.2 L199.7 175.7 L201.2 174.1 L202.6 172.7 L204.1 171.2 L205.5 169.8 L207.0 168.4 L208.5 167.0 L209.9 165.7 L211.4 164.4 L212.8 163.1 L214.3 161.8 L215.7 160.6 L217.2 159.4 L218.7 158.2 L220.1 157.1 L221.6 155.9 L223.0 154.8 L224.5 153.7 L225.9 152.6 L227.4 151.6 L228.8 150.5 L230.3 149.5 L231.8 148.5 L233.2 147.5 L234.7 146.6 L236.1 145.6 L237.6 144.7 L239.0 143.8 L240.5 142.9 L242.0 142.0 L243.4 141.1 L244.9 140.2 L246.3 139.4 L247.8 138.6 L249.2 137.8 L250.7 137.0 L252.2 136.2 L253.6 135.4 L255.1 134.6 L256.5 133.9 L258.0 133.1 L259.4 132.4 L260.9 131.7 L262.4 131.0 L263.8 130.3 L265.3 129.6 L266.7 128.9 L268.2 128.2 L269.6 127.6 L271.1 126.9 L272.6 126.3 L274.0 125.6 L275.5 125.0 L276.9 124.4 L278.4 123.8 L279.8 123.2 L281.3 122.6 L282.8 122.0 L284.2 121.5 L285.7 120.9 L287.1 120.3 L288.6 119.8 L290.0 119.2 L291.5 118.7 L292.9 118.2 L294.4 117.7 L295.9 117.1 L297.3 116.6 L298.8 116.1 L300.2 115.6 L301.7 115.1 L303.1 114.7 L304.6 114.2 L306.1 113.7 L307.5 113.2 L309.0 112.8 L310.4 112.3 L311.9 111.9 L313.3 111.4 L314.8 111.0 L316.3 110.6 L317.7 110.1 L319.2 109.7 L320.6 109.3 L322.1 108.9 L323.5 108.5 L325.0 108.0 L326.5 107.6 L327.9 107.3 L329.4 106.9 L330.8 106.5 L332.3 106.1 L333.7 105.7 L335.2 105.3 L336.7 105.0 L338.1 104.6 L339.6 104.2 L341.0 103.9 L342.5 103.5 L343.9 103.2 L345.4 102.8 L346.9 102.5 L348.3 102.1 L349.8 101.8 L351.2 101.5 L352.7 101.1 L354.1 100.8 L355.6 100.5 L357.0 100.2 L358.5 99.8 L360.0 99.5 L361.4 99.2 L362.9 98.9 L364.3 98.6 L365.8 98.3 L367.2 98.0 L368.7 97.7 L370.2 97.4 L371.6 97.1 L373.1 96.8 L374.5 96.6 L376.0 96.3 L377.4 96.0 L378.9 95.7 L380.4 95.5 L381.8 95.2 L383.3 94.9 L384.7 94.6 L386.2 94.4 L387.6 94.1 L389.1 93.9 L390.6 93.6 L392.0 93.3 L393.5 93.1 L394.9 92.8 L396.4 92.6 L397.8 92.4 L399.3 92.1 L400.8 91.9 L402.2 91.6 L403.7 91.4 L405.1 91.2 L406.6 90.9 L408.0 90.7 L409.5 90.5 L411.0 90.2 L412.4 90.0 L413.9 89.8 L415.3 89.6 L416.8 89.3 L418.2 89.1 L419.7 88.9 L421.1 88.7 L422.6 88.5 L424.1 88.3 L425.5 88.1 L427.0 87.9 L428.4 87.6 L429.9 87.4 L431.3 87.2 L432.8 87.0 L434.3 86.8 L435.7 86.6 L437.2 86.4 L438.6 86.3 L440.1 86.1 L441.5 85.9 L443.0 85.7 L444.5 85.5 L445.9 85.3 L447.4 85.1 L448.8 84.9 L450.3 84.8 L451.7 84.6 L453.2 84.4 L454.7 84.2 L456.1 84.0 L457.6 83.9 L459.0 83.7 L460.5 83.5 L461.9 83.3 L463.4 83.2 L464.9 83.0 L466.3 82.8 L467.8 82.7 L469.2 82.5 L470.7 82.3 L472.1 82.2 L473.6 82.0 L475.1 81.8 L476.5 81.7 L478.0 81.5 L479.4 81.4 L480.9 81.2 L482.3 81.1 L483.8 80.9 L485.2 80.7 L486.7 80.6 L488.2 80.4 L489.6 80.3 L491.1 80.1 L492.5 80.0 L494.0 79.9 L495.4 79.7 L496.9 79.6 L498.4 79.4 L499.8 79.3 L501.3 79.1 L502.7 79.0 L504.2 78.8 L505.6 78.7 L507.1 78.6 L508.6 78.4 L510.0 78.3 L511.5 78.2 L512.9 78.0 L514.4 77.9 L515.8 77.8 L517.3 77.6 L518.8 77.5 L520.2 77.4 L521.7 77.2 L523.1 77.1 L524.6 77.0 L526.0 76.8 L527.5 76.7 L529.0 76.6 L530.4 76.5 L531.9 76.3 L533.3 76.2 L534.8 76.1 L536.2 76.0 L537.7 75.9 L539.1 75.7 L540.6 75.6 L542.1 75.5 L543.5 75.4 L545.0 75.3 L546.4 75.1 L547.9 75.0 L549.3 74.9 L550.8 74.8 L552.3 74.7 L553.7 74.6 L555.2 74.5 L556.6 74.4 L558.1 74.2 L559.5 74.1 L561.0 74.0 L562.5 73.9 L563.9 73.8 L565.4 73.7 L566.8 73.6 L568.3 73.5 L569.7 73.4 L571.2 73.3 L572.7 73.2 L574.1 73.1 L575.6 73.0 L577.0 72.9 L578.5 72.8 L579.9 72.7 L581.4 72.5 L582.9 72.4 L584.3 72.3 L585.8 72.2 L587.2 72.2 L588.7 72.1 L590.1 72.0 L591.6 71.9 L593.1 71.8 L594.5 71.7 L596.0 71.6 L597.4 71.5 L598.9 71.4 L600.3 71.3 L601.8 71.2 L603.2 71.1 L604.7 71.0 L606.2 70.9 L607.6 70.8 L609.1 70.7 L610.5 70.6 L612.0 70.5 L613.4 70.5 L614.9 70.4 L616.4 70.3 L617.8 70.2 L619.3 70.1 L620.7 70.0 L622.2 69.9 L623.6 69.8 L625.1 69.8 L626.6 69.7 L628.0 69.6 L629.5 69.5 L630.9 69.4 L632.4 69.3 L633.8 69.3 L635.3 69.2 L636.8 69.1 L638.2 69.0 L639.7 68.9 L641.1 68.8 L642.6 68.8 L644.0 68.7 L645.5 68.6 L647.0 68.5 L648.4 68.4 L649.9 68.4 L651.3 68.3 L652.8 68.2 L654.2 68.1 L655.7 68.1 L657.2 68.0 L658.6 67.9 L660.1 67.8 L661.5 67.7 L663.0 67.7 L664.4 67.6 L665.9 67.5 L667.3 67.4 L668.8 67.4 L670.3 67.3 L671.7 67.2 L673.2 67.2 L674.6 67.1 L676.1 67.0 L677.5 66.9 L679.0 66.9 L680.5 66.8 L681.9 66.7 L683.4 66.7 L684.8 66.6 L686.3 66.5 L687.7 66.4 L689.2 66.4 L690.7 66.3 L692.1 66.2 L693.6 66.2 L695.0 66.1 L696.5 66.0 L697.9 66.0 L699.4 65.9 L700.9 65.8 L702.3 65.8 L703.8 65.7 L705.2 65.6 L706.7 65.6 L708.1 65.5 L709.6 65.4 L711.1 65.4 L712.5 65.3 L714.0 65.2 L715.4 65.2 L716.9 65.1 L718.3 65.1 L719.8 65.0 L721.3 64.9 L722.7 64.9 L724.2 64.8 L725.6 64.7 L727.1 64.7 L728.5 64.6 L730.0 64.6 L731.4 64.5 L732.9 64.4 L734.4 64.4 L735.8 64.3 L737.3 64.3 L738.7 64.2 L740.2 64.1 L741.6 64.1 L743.1 64.0 L744.6 64.0 L746.0 63.9 L747.5 63.9 L748.9 63.8 L750.4 63.7 L751.8 63.7 L753.3 63.6 L754.8 63.6 L756.2 63.5 L757.7 63.5 L759.1 63.4 L760.6 63.3 L762.0 63.3 L763.5 63.2 L765.0 63.2 L766.4 63.1 L767.9 63.1 L769.3 63.0 L770.8 63.0 L772.2 62.9 L773.7 62.9 L775.2 62.8 L776.6 62.7 L778.1 62.7 L779.5 62.6 L781.0 62.6 L782.4 62.5 L783.9 62.5 L785.3 62.4 L786.8 62.4 L788.3 62.3 L789.7 62.3 L791.2 62.2 L792.6 62.2 L794.1 62.1 L795.5 62.1 L797.0 62.0 L798.5 62.0 L799.9 61.9 L801.4 61.9 L802.8 61.8 L804.3 61.8 L805.7 61.7 L807.2 61.7 L808.7 61.6 L810.1 61.6 L811.6 61.5 L813.0 61.5 L814.5 61.4 L815.9 61.4 L817.4 61.3 L818.9 61.3 L820.3 61.2 L821.8 61.2 L823.2 61.2 L824.7 61.1 L826.1 61.1 L827.6 61.0 L829.1 61.0 L830.5 60.9 L832.0 60.9 L833.4 60.8 L834.9 60.8 L836.3 60.7 L837.8 60.7 L839.3 60.7 L840.7 60.6 L842.2 60.6 L843.6 60.5 L845.1 60.5 L846.5 60.4 L848.0 60.4 L849.4 60.3 L850.9 60.3 L852.4 60.3 L853.8 60.2 L855.3 60.2 L856.7 60.1 L858.2 60.1 L859.6 60.0 L861.1 60.0 L862.6 60.0 L864.0 59.9 L865.5 59.9 L866.9 59.8 L868.4 59.8 L869.8 59.8 L871.3 59.7 L872.8 59.7 L874.2 59.6 L875.7 59.6 L877.1 59.5 L878.6 59.5 L880.0 59.5 L881.5 59.4 L883.0 59.4 L884.4 59.3 L885.9 59.3 L887.3 59.3 L888.8 59.2 L890.2 59.2 L891.7 59.1 L893.2 59.1 L894.6 59.1 L896.1 59.0 L897.5 59.0 L899.0 59.0 L900.4 58.9 L901.9 58.9 L903.4 58.8 L904.8 58.8 L906.3 58.8 L907.7 58.7 L909.2 58.7 L910.6 58.6 L912.1 58.6 L913.5 58.6 L915.0 58.5 L916.5 58.5 L917.9 58.5 L919.4 58.4 L920.8 58.4 L922.3 58.4 L923.7 58.3 L925.2 58.3 L926.7 58.2 L928.1 58.2 L929.6 58.2 L931.0 58.1 L932.5 58.1 L933.9 58.1 L935.4 58.0 L936.9 58.0 L938.3 58.0 L939.8 57.9 L941.2 57.9 L942.7 57.9 L944.1 57.8 L945.6 57.8 L947.1 57.7 L948.5 57.7 L950.0 57.7 L951.4 57.6 L952.9 57.6 L954.3 57.6 L955.8 57.5 L957.3 57.5 L958.7 57.5 L960.2 57.4 L961.6 57.4 L963.1 57.4 L964.5 57.3 L966.0 57.3 L967.5 57.3 L968.9 57.2 L970.4 57.2 L971.8 57.2 L973.3 57.1 L974.7 57.1 L976.2 57.1 L977.6 57.1 L979.1 57.0 L980.6 57.0 L982.0 57.0 L983.5 56.9 L984.9 56.9 L986.4 56.9 L987.8 56.8 L989.3 56.8 L990.8 56.8 L992.2 56.7 L993.7 56.7 L995.1 56.7 L996.6 56.6 L998.0 56.6 L999.5 56.6 L1001.0 56.5 L1002.4 56.5 L1003.9 56.5 L1005.3 56.5 L1006.8 56.4 L1008.2 56.4 L1009.7 56.4 L1011.2 56.3 L1012.6 56.3 L1014.1 56.3 L1015.5 56.2 L1017.0 56.2 L1018.4 56.2 L1019.9 56.2 L1021.4 56.1 L1022.8 56.1 L1024.3 56.1 L1025.7 56.0 L1027.2 56.0 L1028.6 56.0 L1030.1 56.0 L1031.6 55.9 L1033.0 55.9 L1034.5 55.9 L1035.9 55.8 L1037.4 55.8 L1038.8 55.8 L1040.3 55.8 L1041.7 55.7 L1043.2 55.7 L1044.7 55.7 L1046.1 55.6 L1047.6 55.6 L1049.0 55.6 L1050.5 55.6 L1051.9 55.5 L1053.4 55.5 L1054.9 55.5 L1056.3 55.5 L1057.8 55.4 L1059.2 55.4 L1060.7 55.4 L1062.1 55.3 L1063.6 55.3 L1065.1 55.3 L1066.5 55.3 L1068.0 55.2 L1069.4 55.2 L1070.9 55.2 L1072.3 55.2 L1073.8 55.1 L1075.3 55.1 L1076.7 55.1 L1078.2 55.1 L1079.6 55.0 L1081.1 55.0 L1082.5 55.0 L1084.0 54.9 L1085.5 54.9 L1086.9 54.9 L1088.4 54.9 L1089.8 54.8 L1091.3 54.8 L1092.7 54.8 L1094.2 54.8 L1095.6 54.7 L1097.1 54.7 L1098.6 54.7 L1100.0 54.7 L1101.5 54.6 L1102.9 54.6 L1104.4 54.6 L1105.8 54.6 L1107.3 54.5 L1108.8 54.5 L1110.2 54.5 L1111.7 54.5 L1113.1 54.4 L1114.6 54.4" stroke="#0f0" stroke-width="4.3"/>
</g>
<path d="M81.8 511.6 L82.0 504.6 L82.1 498.2 L82.2 492.3 L82.3 486.8 L82.5 481.7 L82.6 476.9 L82.7 472.4 L82.8 468.2 L83.0 464.2 L83.1 460.4 L83.2 456.8 L83.3 453.4 L83.4 450.1 L83.6 447.0 L83.7 443.9 L83.8 441.0 L83.9 438.3 L84.1 435.6 L84.2 433.0 L84.3 430.5 L84.4 428.0 L84.6 425.7 L84.7 423.4 L84.8 421.2 L84.9 419.1 L85.1 417.0 L85.2 415.0 L85.3 413.0 L85.4 411.1 L85.6 409.2 L86.8 392.7 L88.0 379.3 L89.3 367.9 L90.5 358.0 L91.7 349.3 L93.0 341.5 L94.2 334.5 L95.5 328.0 L96.7 322.1 L97.9 316.6 L99.2 311.6 L100.4 306.8 L101.7 302.3 L102.9 298.1 L104.1 294.1 L105.4 290.3 L106.6 286.7 L107.8 283.3 L109.1 280.0 L110.3 276.8 L111.6 273.8 L112.8 270.9 L114.0 268.1 L115.3 265.4 L116.5 262.8 L117.7 260.3 L119.0 257.9 L120.2 255.6 L121.5 253.3 L122.7 251.1 L123.9 248.9 L125.2 246.9 L126.4 244.8 L127.7 242.9 L128.9 240.9 L130.1 239.1 L131.4 237.3 L132.6 235.5 L133.8 233.7 L135.1 232.0 L136.3 230.4 L137.6 228.8 L138.8 227.2 L140.0 225.6 L141.3 224.1 L142.5 222.6 L143.8 221.1 L145.0 219.7 L146.2 218.3 L147.5 216.9 L148.7 215.5 L149.9 214.2 L151.2 212.9 L152.4 211.6 L153.7 210.4 L154.9 209.1 L156.1 207.9 L157.4 206.7 L158.6 205.5 L159.9 204.3 L161.1 203.2 L162.3 202.1 L163.6 201.0 L164.8 199.9 L166.0 198.8 L167.3 197.7 L168.5 196.7 L169.8 195.6 L171.0 194.6 L172.2 193.6 L173.5 192.6 L174.7 191.7 L175.9 190.7 L177.2 189.7 L178.4 188.8 L179.7 187.9 L180.9 186.9 L182.1 186.0 L183.4 185.1 L184.6 184.3 L185.9 183.4 L187.1 182.5 L188.3 181.7 L189.6 180.8 L190.8 180.0 L192.0 179.2 L193.3 178.3 L194.5 177.5 L195.8 176.7 L197.0 175.9 L198.2 175.2 L199.5 174.4 L200.7 173.6 L202.0 172.9 L203.2 172.1 L204.4 171.4 L205.7 170.6 L206.9 169.9 L208.1 169.2 L209.4 168.5 L210.6 167.8 L211.9 167.1 L213.1 166.4 L214.3 165.7 L215.6 165.0 L216.8 164.3 L218.0 163.7 L219.3 163.0 L220.5 162.3 L221.8 161.7 L223.0 161.0 L224.2 160.4 L225.5 159.8 L226.7 159.1 L228.0 158.5 L229.2 157.9 L230.4 157.3 L231.7 156.7 L232.9 156.1 L234.1 155.5 L235.4 154.9 L236.6 154.3 L237.9 153.7 L239.1 153.1 L240.3 152.6 L241.6 152.0 L242.8 151.4 L244.1 150.9 L245.3 150.3 L246.5 149.7 L247.8 149.2 L249.0 148.7 L250.2 148.1 L251.5 147.6 L252.7 147.0 L254.0 146.5 L255.2 146.0 L256.4 145.5 L257.7 144.9 L258.9 144.4 L260.2 143.9 L261.4 143.4 L262.6 142.9 L263.9 142.4 L265.1 141.9 L266.3 141.4 L267.6 140.9 L268.8 140.4 L270.1 140.0 L271.3 139.5 L272.5 139.0 L273.8 138.5 L275.0 138.0 L276.2 137.6 L277.5 137.1 L278.7 136.6 L280.0 136.2 L281.2 135.7 L282.4 135.3 L283.7 134.8 L284.9 134.4 L286.2 133.9 L287.4 133.5 L288.6 133.0 L289.9 132.6 L291.1 132.2 L292.3 131.7 L293.6 131.3 L294.8 130.9 L296.1 130.4 L297.3 130.0 L298.5 129.6 L299.8 129.2 L301.0 128.8 L302.3 128.4 L303.5 127.9 L304.7 127.5 L306.0 127.1 L307.2 126.7 L308.4 126.3 L309.7 125.9 L310.9 125.5 L312.2 125.1 L313.4 124.7 L314.6 124.3 L315.9 123.9 L317.1 123.6 L318.4 123.2 L319.6 122.8 L320.8 122.4 L322.1 122.0 L323.3 121.6 L324.5 121.3 L325.8 120.9 L327.0 120.5 L328.3 120.2 L329.5 119.8 L330.7 119.4 L332.0 119.1 L333.2 118.7 L334.4 118.3 L335.7 118.0 L336.9 117.6 L338.2 117.3 L339.4 116.9 L340.6 116.6 L341.9 116.2 L343.1 115.9 L344.4 115.5 L345.6 115.2 L346.8 114.8 L348.1 114.5 L349.3 114.1 L350.5 113.8 L351.8 113.5 L353.0 113.1 L354.3 112.8 L355.5 112.4 L356.7 112.1 L358.0 111.8 L359.2 111.5 L360.5 111.1 L361.7 110.8 L362.9 110.5 L364.2 110.2 L365.4 109.8 L366.6 109.5 L367.9 109.2 L369.1 108.9 L370.4 108.6 L371.6 108.2 L372.8 107.9 L374.1 107.6 L375.3 107.3 L376.6 107.0 L377.8 106.7 L379.0 106.4 L380.3 106.1 L381.5 105.8 L382.7 105.5 L384.0 105.2 L385.2 104.9 L386.5 104.6 L387.7 104.3 L388.9 104.0 L390.2 103.7 L391.4 103.4 L392.6 103.1 L393.9 102.8 L395.1 102.5 L396.4 102.2 L397.6 101.9 L398.8 101.6 L400.1 101.3 L401.3 101.1 L402.6 100.8 L403.8 100.5 L405.0 100.2 L406.3 99.9 L407.5 99.6 L408.7 99.4 L410.0 99.1 L411.2 98.8 L412.5 98.5 L413.7 98.3 L414.9 98.0 L416.2 97.7 L417.4 97.4 L418.7 97.2 L419.9 96.9 L421.1 96.6 L422.4 96.4 L423.6 96.1 L424.8 95.8 L426.1 95.6 L427.3 95.3 L428.6 95.0 L429.8 94.8 L431.0 94.5 L432.3 94.2 L433.5 94.0 L434.7 93.7 L436.0 93.5 L437.2 93.2 L438.5 93.0 L439.7 92.7 L440.9 92.4 L442.2 92.2 L443.4 91.9 L444.7 91.7 L445.9 91.4 L447.1 91.2 L448.4 90.9 L449.6 90.7 L450.8 90.4 L452.1 90.2 L453.3 90.0 L454.6 89.7 L455.8 89.5 L457.0 89.2 L458.3 89.0 L459.5 88.7 L460.8 88.5 L462.0 88.3 L463.2 88.0 L464.5 87.8 L465.7 87.5 L466.9 87.3 L468.2 87.1 L469.4 86.8 L470.7 86.6 L471.9 86.4 L473.1 86.1 L474.4 85.9 L475.6 85.7 L476.9 85.4 L478.1 85.2 L479.3 85.0 L480.6 84.7 L481.8 84.5 L483.0 84.3 L484.3 84.1 L485.5 83.8 L486.8 83.6 L488.0 83.4 L489.2 83.2 L490.5 82.9 L491.7 82.7 L492.9 82.5 L494.2 82.3 L495.4 82.0 L496.7 81.8 L497.9 81.6 L499.1 81.4 L500.4 81.2 L501.6 80.9 L502.9 80.7 L504.1 80.5 L505.3 80.3 L506.6 80.1 L507.8 79.9 L509.0 79.7 L510.3 79.4 L511.5 79.2 L512.8 79.0 L514.0 78.8 L515.2 78.6 L516.5 78.4 L517.7 78.2 L519.0 78.0 L520.2 77.8 L521.4 77.6 L522.7 77.3 L523.9 77.1 L525.1 76.9 L526.4 76.7 L527.6 76.5 L528.9 76.3 L530.1 76.1 L531.3 75.9 L532.6 75.7 L533.8 75.5 L535.1 75.3 L536.3 75.1 L537.5 74.9 L538.8 74.7 L540.0 74.5 L541.2 74.3 L542.5 74.1 L543.7 73.9 L545.0 73.7 L546.2 73.5 L547.4 73.3 L548.7 73.1 L549.9 72.9 L551.1 72.7 L552.4 72.5 L553.6 72.3 L554.9 72.1 L556.1 72.0 L557.3 71.8 L558.6 71.6 L559.8 71.4 L561.1 71.2 L562.3 71.0 L563.5 70.8 L564.8 70.6 L566.0 70.4 L567.2 70.2 L568.5 70.1 L569.7 69.9 L571.0 69.7 L572.2 69.5 L573.4 69.3 L574.7 69.1 L575.9 68.9 L577.2 68.8 L578.4 68.6 L579.6 68.4 L580.9 68.2 L582.1 68.0 L583.3 67.8 L584.6 67.7 L585.8 67.5 L587.1 67.3 L588.3 67.1 L589.5 66.9 L590.8 66.8 L592.0 66.6 L593.3 66.4 L594.5 66.2 L595.7 66.0 L597.0 65.9 L598.2 65.7 L599.4 65.5 L600.7 65.3 L601.9 65.2 L603.2 65.0 L604.4 64.8 L605.6 64.6 L606.9 64.5 L608.1 64.3 L609.3 64.1 L610.6 63.9 L611.8 63.8 L613.1 63.6 L614.3 63.4 L615.5 63.3 L616.8 63.1 L618.0 62.9 L619.3 62.7 L620.5 62.6 L621.7 62.4 L623.0 62.2 L624.2 62.1 L625.4 61.9 L626.7 61.7 L627.9 61.6 L629.2 61.4 L630.4 61.2 L631.6 61.1 L632.9 60.9 L634.1 60.7 L635.4 60.6 L636.6 60.4 L637.8 60.2 L639.1 60.1 L640.3 59.9 L641.5 59.7 L642.8 59.6 L644.0 59.4 L645.3 59.3 L646.5 59.1 L647.7 58.9 L649.0 58.8 L650.2 58.6 L651.4 58.5 L652.7 58.3 L653.9 58.1 L655.2 58.0 L656.4 57.8 L657.6 57.7 L658.9 57.5 L660.1 57.3 L661.4 57.2 L662.6 57.0 L663.8 56.9 L665.1 56.7 L666.3 56.6 L667.5 56.4 L668.8 56.2 L670.0 56.1 L671.3 55.9 L672.5 55.8 L673.7 55.6 L675.0 55.5 L676.2 55.3 L677.5 55.2 L678.7 55.0 L679.9 54.9 L681.2 54.7 L682.4 54.6 L683.6 54.4 L684.9 54.2 L686.1 54.1 L687.4 53.9 L688.6 53.8 L689.8 53.6 L691.1 53.5 L692.3 53.3 L693.6 53.2 L694.8 53.0 L696.0 52.9 L697.3 52.7 L698.5 52.6 L699.7 52.5 L701.0 52.3 L702.2 52.2 L703.5 52.0 L704.7 51.9 L705.9 51.7 L707.2 51.6 L708.4 51.4 L709.6 51.3 L710.9 51.1 L712.1 51.0 L713.4 50.8 L714.6 50.7 L715.8 50.6 L717.1 50.4 L718.3 50.3 L719.6 50.1 L720.8 50.0 L722.0 49.8 L723.3 49.7 L724.5 49.6 L725.7 49.4 L727.0 49.3 L728.2 49.1 L729.5 49.0 L730.7 48.8 L731.9 48.7 L733.2 48.6 L734.4 48.4 L735.7 48.3 L736.9 48.1 L738.1 48.0 L739.4 47.9 L740.6 47.7 L741.8 47.6 L743.1 47.5 L744.3 47.3 L745.6 47.2 L746.8 47.0 L748.0 46.9 L749.3 46.8 L750.5 46.6 L751.8 46.5 L753.0 46.4 L754.2 46.2 L755.5 46.1 L756.7 45.9 L757.9 45.8 L759.2 45.7 L760.4 45.5 L761.7 45.4 L762.9 45.3 L764.1 45.1 L765.4 45.0 L766.6 44.9 L767.8 44.7 L769.1 44.6 L770.3 44.5 L771.6 44.3 L772.8 44.2 L774.0 44.1 L775.3 43.9 L776.5 43.8 L777.8 43.7 L779.0 43.6 L780.2 43.4 L781.5 43.3 L782.7 43.2 L783.9 43.0 L785.2 42.9 L786.4 42.8 L787.7 42.6 L788.9 42.5 L790.1 42.4 L791.4 42.3 L792.6 42.1 L793.9 42.0 L795.1 41.9 L796.3 41.7 L797.6 41.6 L798.8 41.5 L800.0 41.4 L801.3 41.2 L802.5 41.1 L803.8 41.0 L805.0 40.9 L806.2 40.7 L807.5 40.6 L808.7 40.5 L810.0 40.3 L811.2 40.2 L812.4 40.1 L813.7 40.0 L814.9 39.8 L816.1 39.7 L817.4 39.6 L818.6 39.5 L819.9 39.4 L821.1 39.2 L822.3 39.1 L823.6 39.0 L824.8 38.9 L826.0 38.7 L827.3 38.6 L828.5 38.5 L829.8 38.4 L831.0 38.2 L832.2 38.1 L833.5 38.0 L834.7 37.9 L836.0 37.8 L837.2 37.6 L838.4 37.5 L839.7 37.4 L840.9 37.3 L842.1 37.2 L843.4 37.0 L844.6 36.9 L845.9 36.8 L847.1 36.7 L848.3 36.6 L849.6 36.4 L850.8 36.3 L852.1 36.2 L853.3 36.1 L854.5 36.0 L855.8 35.8 L857.0 35.7 L858.2 35.6 L859.5 35.5 L860.7 35.4 L862.0 35.3 L863.2 35.1 L864.4 35.0 L865.7 34.9 L866.9 34.8 L868.1 34.7 L869.4 34.6 L870.6 34.4 L871.9 34.3 L873.1 34.2 L874.3 34.1 L875.6 34.0 L876.8 33.9 L878.1 33.8 L879.3 33.6 L880.5 33.5 L881.8 33.4 L883.0 33.3 L884.2 33.2 L885.5 33.1 L886.7 33.0 L888.0 32.8 L889.2 32.7 L890.4 32.6 L891.7 32.5 L892.9 32.4 L894.2 32.3 L895.4 32.2 L896.6 32.1 L897.9 31.9 L899.1 31.8 L900.3 31.7 L901.6 31.6 L902.8 31.5 L904.1 31.4 L905.3 31.3 L906.5 31.2 L907.8 31.0 L909.0 30.9 L910.3 30.8 L911.5 30.7 L912.7 30.6 L914.0 30.5 L915.2 30.4 L916.4 30.3 L917.7 30.2 L918.9 30.1 L920.2 30.0 L921.4 29.8 L922.6 29.7 L923.9 29.6 L925.1 29.5 L926.3 29.4 L927.6 29.3 L928.8 29.2 L930.1 29.1 L931.3 29.0 L932.5 28.9 L933.8 28.8 L935.0 28.7 L936.3 28.5 L937.5 28.4 L938.7 28.3 L940.0 28.2 L941.2 28.1 L942.4 28.0 L943.7 27.9 L944.9 27.8 L946.2 27.7 L947.4 27.6" stroke="#000" stroke-width="3.8" stroke-linecap="round" stroke-dasharray="8.6 6.3 0.7 6.3"/>
</g>
<text transform="translate(81.1,749.3) scale(0.866,1)" font-size="28.6" text-anchor="middle">0</text>
<text transform="translate(204.9,749.3) scale(0.866,1)" font-size="28.6" text-anchor="middle">500</text>
<text transform="translate(328.8,749.3) scale(0.866,1)" font-size="28.6" text-anchor="middle">1000</text>
<text transform="translate(452.6,749.3) scale(0.866,1)" font-size="28.6" text-anchor="middle">1500</text>
<text transform="translate(576.4,749.3) scale(0.866,1)" font-size="28.6" text-anchor="middle">2000</text>
<text transform="translate(700.2,749.3) scale(0.866,1)" font-size="28.6" text-anchor="middle">2500</text>
<text transform="translate(824.1,749.3) scale(0.866,1)" font-size="28.6" text-anchor="middle">3000</text>
<text transform="translate(947.9,749.3) scale(0.866,1)" font-size="28.6" text-anchor="middle">3500</text>
<text transform="translate(75,728.0) scale(0.866,1)" font-size="28.6" text-anchor="end">0</text>
<text transform="translate(75,640.6) scale(0.866,1)" font-size="28.6" text-anchor="end">20</text>
<text transform="translate(75,551.9) scale(0.866,1)" font-size="28.6" text-anchor="end">40</text>
<text transform="translate(75,463.3) scale(0.866,1)" font-size="28.6" text-anchor="end">60</text>
<text transform="translate(75,374.6) scale(0.866,1)" font-size="28.6" text-anchor="end">80</text>
<text transform="translate(75,286.0) scale(0.866,1)" font-size="28.6" text-anchor="end">100</text>
<text transform="translate(75,197.3) scale(0.866,1)" font-size="28.6" text-anchor="end">120</text>
<text transform="translate(75,108.7) scale(0.866,1)" font-size="28.6" text-anchor="end">140</text>
<text transform="translate(75,20.0) scale(0.866,1)" font-size="28.6" text-anchor="end">160</text>
<text transform="translate(464.3,780.5) scale(0.900,1)" font-size="22.5">Time [ min ]</text>
<g transform="translate(17.2,414.4) rotate(-90)">
<text transform="translate(0.0,0.0) scale(0.920,1)" font-size="22.5">q</text>
<text transform="translate(13.0,8.8) scale(0.920,1)" font-size="17.5">e</text>
<text transform="translate(29.5,0.0) scale(0.920,1)" font-size="22.5">[</text>
<text transform="translate(43.3,0.0) scale(0.920,1)" font-size="22.5">m</text>
<text transform="translate(64.8,0.0) scale(0.920,1)" font-size="22.5">g</text>
<text transform="translate(78.2,0.0) scale(0.920,1)" font-size="22.5">/</text>
<text transform="translate(84.6,0.0) scale(0.920,1)" font-size="22.5">g</text>
<text transform="translate(104.3,0.0) scale(0.920,1)" font-size="22.5">]</text>
</g>
<rect x="631.8" y="467.2" width="282" height="220" fill="#fff" stroke="#000" stroke-width="1.6"/>
<g fill="none">
<path d="M638.6 490.7 H673" stroke="#00f" stroke-width="4" stroke-dasharray="4 3.55"/><ellipse cx="656.3" cy="490.7" rx="3.5" ry="4.1" fill="#00f"/>
<path d="M638.6 534.0 H671.7" stroke="#f00" stroke-width="5.4" stroke-dasharray="14.4 4"/>
<path d="M638.6 577.1 H674" stroke="#00f" stroke-width="1.6"/>
<path d="M638.6 619.8 H674" stroke="#0f0" stroke-width="4.4"/>
<path d="M638.6 662.8 H672.4" stroke="#000" stroke-width="4.6" stroke-dasharray="11.2 3.3 4.5 3.3"/>
</g>
<text transform="translate(678,500.6) scale(0.965,1)" font-size="23.4">Exp.</text>
<text transform="translate(678,543.7) scale(0.965,1)" font-size="23.4">First Order</text>
<text transform="translate(678,586.9) scale(0.965,1)" font-size="23.4">Second Order</text>
<text transform="translate(678,630.0) scale(0.965,1)" font-size="23.4">Ritchie Second Order</text>
<text transform="translate(678,673.1) scale(0.965,1)" font-size="23.4">Elovich</text>
</svg></body></html>
